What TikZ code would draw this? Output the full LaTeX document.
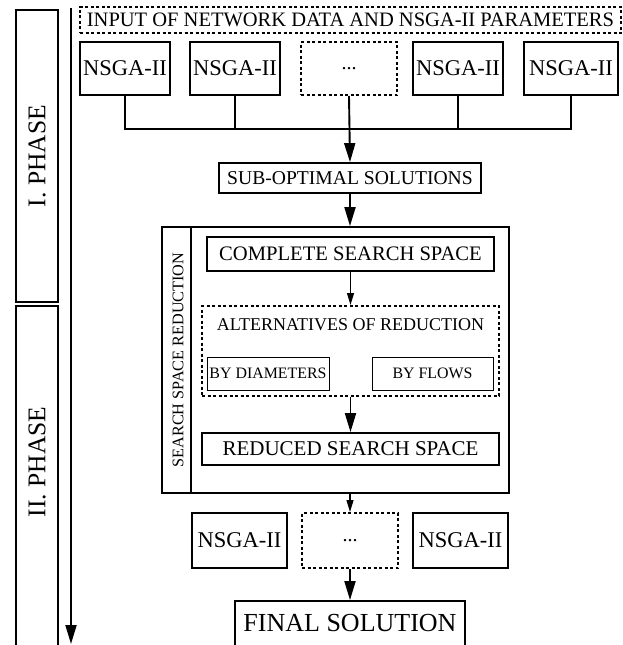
\documentclass[tikz,border=0pt]{standalone}
\usepackage{fontspec}
\setmainfont{Liberation Serif}
\usetikzlibrary{arrows.meta}
\newcommand\fsz[1]{\fontsize{#1}{#1}\selectfont}

\begin{document}
\begin{tikzpicture}[x=1pt,y=-1pt,
    box/.style={draw, line width=1.8pt, inner sep=0pt, align=center},
    dotbox/.style={box, line width=2pt, dash pattern=on 3pt off 2.5pt},
    big/.style={-{Triangle[width=11pt,length=19pt]}, line width=1.9pt},
    small/.style={-{Triangle[width=7pt,length=12pt]}, line width=1.2pt}]
      \useasboundingbox (0,0) rectangle (623,645);
      % phases
      \node[box, minimum width=42pt, minimum height=292pt] (ph1) at (37,156) {};
      \node[rotate=90] (ph1t) at (ph1) {\fsz{25.5}I. PHASE};
      \node[box, minimum width=42pt, minimum height=354pt] (ph2) at (37,483) {};
      \node[rotate=90] (ph2t) at (37,462) {\fsz{25.5}II. PHASE};
      \coordinate (ttop) at (71,8);
      \coordinate (tbot) at (71,644);
      \draw[big] (ttop) -- (tbot);

      % phase I
      \node[dotbox, minimum width=541pt, minimum height=26pt] (inp) at (350.5,20) {\fsz{20.5}INPUT OF NETWORK DATA AND NSGA-II PARAMETERS};
      \node[box, minimum width=90pt, minimum height=53pt] (a1) at (125,68.5) {\fsz{22.5}NSGA-II};
      \node[box, minimum width=90pt, minimum height=53pt] (a2) at (235,68.5) {\fsz{22.5}NSGA-II};
      \node[dotbox, minimum width=96pt, minimum height=53pt] (a3) at (349,68.5) {\fsz{20}...};
      \node[box, minimum width=90pt, minimum height=53pt] (a4) at (458,68.5) {\fsz{22.5}NSGA-II};
      \node[box, minimum width=94pt, minimum height=53pt] (a5) at (571,68.5) {\fsz{22.5}NSGA-II};
      \coordinate (join) at (349,129);
      \draw[line width=1.8pt] (a1.south) |- (join) -| (a5.south);
      \draw[line width=1.8pt] (a2.south) -- (a2.south |- join);
      \draw[line width=1.8pt] (a4.south) -- (a4.south |- join);
      \node[box, minimum width=262pt, minimum height=30pt] (sub) at (350,178) {\fsz{19.6}SUB-OPTIMAL SOLUTIONS};
      \draw[big] (a3.south) -- (sub.north);

      % search space reduction
      \node[box, minimum width=347pt, minimum height=266pt] (ssr) at (335.5,360) {};
      \node[box, minimum width=29pt, minimum height=266pt] (ssrl) at (176.5,360) {};
      \node[rotate=90] (ssrt) at (178,360) {\fsz{16.2}SEARCH SPACE REDUCTION};
      \draw[big] (sub.south) -- (sub.south |- ssr.north);
      \node[box, minimum width=287pt, minimum height=34pt] (css) at (350.5,254) {\fsz{20.6}COMPLETE SEARCH SPACE};
      \node[dotbox, minimum width=297pt, minimum height=90pt] (alt) at (350.5,351) {};
      \node (altt) at (350.5,325) {\fsz{18}ALTERNATIVES OF REDUCTION};
      \node[box, line width=1pt, minimum width=122pt, minimum height=33pt] (bd) at (268,373.5) {\fsz{15.9}BY DIAMETERS};
      \node[box, line width=1pt, minimum width=121pt, minimum height=33pt] (bf) at (432.5,373.5) {\fsz{15.9}BY FLOWS};
      \draw[small] (css.south) -- (css.south |- alt.north);
      \node[box, minimum width=297pt, minimum height=32pt] (rss) at (350.5,449) {\fsz{21}REDUCED SEARCH SPACE};
      \draw[big] (alt.south) -- (rss.north);

      % phase II
      \node[box, minimum width=95pt, minimum height=55pt] (b1) at (239.5,540.5) {\fsz{22.5}NSGA-II};
      \node[dotbox, minimum width=96pt, minimum height=55pt] (b2) at (350,540.5) {\fsz{20}...};
      \node[box, minimum width=95pt, minimum height=55pt] (b3) at (460.5,540.5) {\fsz{22.5}NSGA-II};
      \draw[small] (b2.north |- ssr.south) -- (b2.north);
      \node[box, minimum width=230pt, minimum height=60pt] (fin) at (350,631) {};
      \node (fint) at (350,623) {\fsz{26}FINAL SOLUTION};
      \draw[big] (b2.south) -- (fin.north);
\end{tikzpicture}
\end{document}
